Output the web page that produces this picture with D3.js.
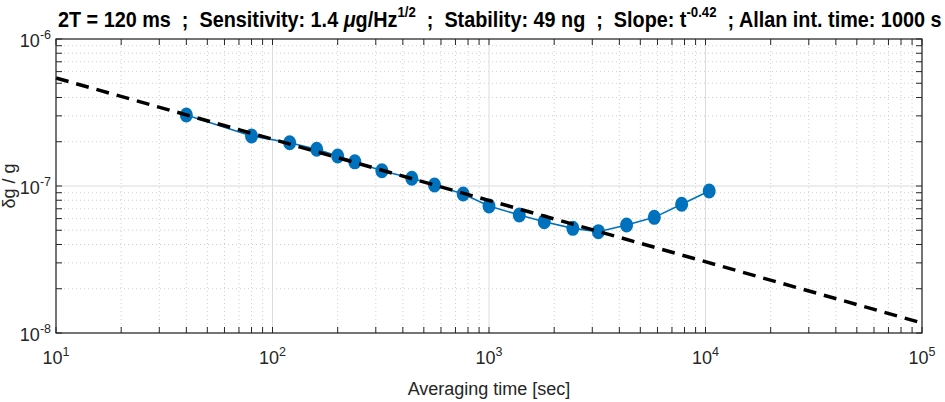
<!DOCTYPE html>
<html><head><meta charset="utf-8">
<script src="https://cdn.jsdelivr.net/npm/d3@7"></script>
<style>
html,body{margin:0;padding:0;background:#fff;overflow:hidden}
text{font-family:"Liberation Sans",Arial,Helvetica,sans-serif}
</style></head>
<body><svg id="c" width="945" height="402"></svg>
<script>
// Data
const tau = [40, 80, 120, 160, 200, 240, 320, 440, 560, 760, 1000, 1380, 1800, 2440, 3200, 4320, 5800, 7760, 10400];
const adev = [3.04e-7, 2.19e-7, 1.97e-7, 1.78e-7, 1.60e-7, 1.46e-7, 1.27e-7, 1.13e-7, 1.016e-7, 8.82e-8, 7.31e-8, 6.35e-8, 5.72e-8, 5.15e-8, 4.89e-8, 5.43e-8, 6.12e-8, 7.51e-8, 9.25e-8];
const fitTau = [10, 100000];
const fitDev = [5.43e-7, 1.17e-8];
const xTickExps = [1, 2, 3, 4, 5];
const yTickExps = [-6, -7, -8];
const xLabel = "Averaging time [sec]";
const yLabel = "δg / g";

const svg = d3.select("#c");
const L = 56, R = 922, T = 39, B = 333;
const x = d3.scaleLog().domain([10, 1e5]).range([L, R]);
const y = d3.scaleLog().domain([1e-8, 1e-6]).range([B, T]);

// minor values
const xMinor = [], yMinor = [];
for (let e = 1; e < 5; e++) for (let m = 2; m <= 9; m++) xMinor.push(m * Math.pow(10, e));
for (let e = -8; e < -6; e++) for (let m = 2; m <= 9; m++) yMinor.push(m * Math.pow(10, e));
const xMajor = xTickExps.map(e => Math.pow(10, e));
const yMajor = yTickExps.map(e => Math.pow(10, e));

const g = svg.append("g");
// minor grid (dotted)
g.selectAll(".xmg").data(xMinor).enter().append("line")
  .attr("x1", d => x(d)).attr("x2", d => x(d)).attr("y1", T).attr("y2", B)
  .attr("stroke", "#cfcfcf").attr("stroke-width", 1).attr("stroke-dasharray", "1,3");
g.selectAll(".ymg").data(yMinor).enter().append("line")
  .attr("y1", d => y(d)).attr("y2", d => y(d)).attr("x1", L).attr("x2", R)
  .attr("stroke", "#cfcfcf").attr("stroke-width", 1).attr("stroke-dasharray", "1,3");
// major grid
g.selectAll(".xMg").data(xMajor).enter().append("line")
  .attr("x1", d => x(d)).attr("x2", d => x(d)).attr("y1", T).attr("y2", B)
  .attr("stroke", "#dcdcdc").attr("stroke-width", 1);
g.selectAll(".yMg").data(yMajor).enter().append("line")
  .attr("y1", d => y(d)).attr("y2", d => y(d)).attr("x1", L).attr("x2", R)
  .attr("stroke", "#dcdcdc").attr("stroke-width", 1);

// data line
const pts = tau.map((t, i) => [t, adev[i]]);
svg.append("path").datum(pts)
  .attr("d", d3.line().x(d => x(d[0])).y(d => y(d[1])))
  .attr("fill", "none").attr("stroke", "#0072BD").attr("stroke-width", 1.6);
svg.selectAll(".m").data(pts).enter().append("ellipse")
  .attr("cx", d => x(d[0])).attr("cy", d => y(d[1]))
  .attr("rx", 6.5).attr("ry", 7.5).attr("fill", "#0072BD");

// fit line
const fitPts = fitTau.map((t, i) => [t, fitDev[i]]);
svg.append("path").datum(fitPts)
  .attr("d", d3.line().x(d => x(d[0])).y(d => y(d[1])))
  .attr("fill", "none").attr("stroke", "#000").attr("stroke-width", 3.5)
  .attr("stroke-dasharray", "13,8");

// axes box and ticks
const axC = "#262626";
const tk = 6;
const allX = xMajor.concat(xMinor), allY = yMajor.concat(yMinor);
const ticks = svg.append("g").attr("stroke", axC).attr("stroke-width", 1);
allX.forEach(d => {
  ticks.append("line").attr("x1", x(d)).attr("x2", x(d)).attr("y1", B).attr("y2", B - tk);
  ticks.append("line").attr("x1", x(d)).attr("x2", x(d)).attr("y1", T).attr("y2", T + tk);
});
allY.forEach(d => {
  ticks.append("line").attr("y1", y(d)).attr("y2", y(d)).attr("x1", L).attr("x2", L + tk);
  ticks.append("line").attr("y1", y(d)).attr("y2", y(d)).attr("x1", R).attr("x2", R - tk);
});
svg.append("rect").attr("x", L).attr("y", T).attr("width", R - L).attr("height", B - T)
  .attr("fill", "none").attr("stroke", axC).attr("stroke-width", 1.2);

// tick labels
xTickExps.forEach(e => {
  const t = svg.append("text").attr("x", x(Math.pow(10, e))).attr("y", 364)
    .attr("text-anchor", "middle").attr("fill", axC).attr("font-size", 18);
  t.append("tspan").text("10");
  t.append("tspan").attr("font-size", 12.5).attr("dy", -8).text(String(e));
});
yTickExps.forEach(e => {
  const t = svg.append("text").attr("x", 51).attr("y", y(Math.pow(10, e)) + 8)
    .attr("text-anchor", "end").attr("fill", axC).attr("font-size", 18);
  t.append("tspan").text("10");
  t.append("tspan").attr("font-size", 12.5).attr("dy", -8).text(String(e));
});

// axis labels
svg.append("text").attr("x", (L + R) / 2).attr("y", 395).attr("text-anchor", "middle")
  .attr("fill", axC).attr("font-size", 18).text(xLabel);
svg.append("text").attr("transform", `translate(15,${(T + B) / 2}) rotate(-90)`)
  .attr("text-anchor", "middle").attr("fill", axC).attr("font-size", 18).text(yLabel);

// title
const title = svg.append("text").attr("x", 0).attr("y", 0)
  .attr("font-weight", "bold").attr("font-size", 22.5).attr("fill", "#000")
  .style("font-family", "'Liberation Sans Narrow','Liberation Sans',Arial,sans-serif")
  .style("white-space", "pre");
const parts = [
  {t: "2T = 120 ms  ;  Sensitivity: 1.4 "},
  {t: "μ", it: true},
  {t: "g/Hz"},
  {t: "1/2", sup: true},
  {t: "  ;  Stability: 49 ng  ;  Slope: t"},
  {t: "-0.42", sup: true},
  {t: "  ; Allan int. time: 1000 s"}
];
let up = false;
parts.forEach(p => {
  const s = title.append("tspan").text(p.t);
  if (p.it) s.attr("font-style", "italic");
  if (p.sup) { s.attr("font-size", 15).attr("dy", -10); up = true; }
  else if (up) { s.attr("dy", 10); up = false; }
});
const bb = title.node().getBBox();
const targetW = 884, startX = 58;
const sx = targetW / bb.width;
title.attr("transform", `translate(${startX - bb.x * sx},26.5) scale(${sx},1)`);
</script></body></html>
